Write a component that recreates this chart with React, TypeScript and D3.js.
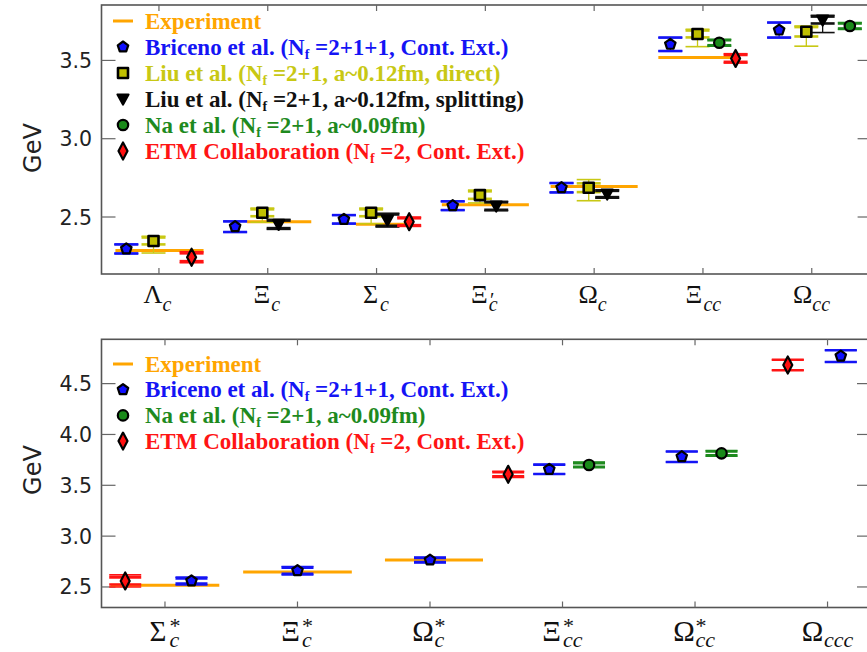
import React from "react";
import * as d3 from "d3";

// ---------- top panel: ground-state charmed baryons ----------
const topBase = ["Λ", "Ξ", "Σ", "Ξ", "Ω", "Ξ", "Ω"];
const topSub = ["c", "c", "c", "c", "c", "cc", "cc"];
const topSup = ["", "", "", "′", "", "", ""];

const expTop = [2.286, 2.469, 2.454, 2.578, 2.695, 3.519, null];

const bricenoTop = [2.296, 2.438, 2.485, 2.572, 2.687, 3.603, 3.694];
const bricenoTopErr = [0.029, 0.034, 0.027, 0.028, 0.03, 0.043, 0.048];

const liuDirectTop = [2.347, 2.527, 2.527, 2.64, 2.687, 3.669, 3.683];
const liuDirectStat = [0.022, 0.022, 0.022, 0.024, 0.028, 0.022, 0.03];
const liuDirectUp = [0.03, 0.03, 0.03, 0.032, 0.052, 0.03, 0.037];
const liuDirectDown = [0.077, 0.06, 0.07, 0.05, 0.083, 0.081, 0.092];

const liuSplitTop = [null, 2.453, 2.48, 2.57, 2.647, null, 3.758];
const liuSplitStat = [null, 0.024, 0.036, 0.024, 0.02, null, 0.022];
const liuSplitUp = [null, 0.032, 0.044, 0.03, 0.027, null, 0.03];
const liuSplitDown = [null, 0.032, 0.044, 0.03, 0.027, null, 0.08];

const naTop = [null, null, null, null, null, 3.613, 3.72];
const naTopStat = [null, null, null, null, null, 0.016, 0.016];
const naTopTot = [null, null, null, null, null, 0.022, 0.022];

const etmTop = [2.243, null, 2.47, null, null, 3.513, null];
const etmTopStat = [0.025, null, 0.022, null, null, 0.022, null];
const etmTopTot = [0.035, null, 0.03, null, null, 0.03, null];

// ---------- bottom panel: spin-3/2 and triply charmed ----------
const botBase = ["Σ", "Ξ", "Ω", "Ξ", "Ω", "Ω"];
const botSub = ["c", "c", "c", "cc", "cc", "ccc"];
const botSup = ["*", "*", "*", "*", "*", ""];

const expBot = [2.518, 2.646, 2.766, null, null, null];

const bricenoBot = [2.559, 2.66, 2.765, 3.657, 3.781, 4.771];
const bricenoBotStat = [0.025, 0.03, 0.02, 0.046, 0.052, 0.058];
const bricenoBotTot = [0.038, 0.042, 0.03, 0.046, 0.052, 0.058];

const naBot = [null, null, null, 3.7, 3.814, null];
const naBotStat = [null, null, null, 0.018, 0.018, null];
const naBotTot = [null, null, null, 0.028, 0.028, null];

const etmBot = [2.559, null, null, 3.608, null, 4.683];
const etmBotStat = [0.035, null, null, 0.02, null, 0.052];
const etmBotTot = [0.06, null, null, 0.03, null, 0.052];

// horizontal slot of each point inside its category (category units)
const slotTop = {
  briceno: [-0.3, -0.3, -0.3, -0.3, -0.3, -0.3, -0.3],
  liuDirect: [-0.05, -0.05, -0.05, -0.05, -0.05, -0.05, -0.05],
  liuSplit: [0.1, 0.1, 0.1, 0.1, 0.12, 0.1, 0.1],
  na: [0, 0, 0, 0, 0, 0.15, 0.35],
  etm: [0.3, 0.3, 0.3, 0.3, 0.3, 0.3, 0.3],
};
const expSpanTop = [
  [-0.4, 0.41],
  [-0.19, 0.4],
  [-0.19, 0.33],
  [-0.4, 0.4],
  [-0.4, 0.4],
  [-0.41, 0.31],
  [0, 0],
];
const slotBot = {
  briceno: [0.2, 0, 0, -0.1, -0.1, 0.1],
  na: [0, 0, 0, 0.2, 0.2, 0],
  etm: [-0.3, 0, 0, -0.41, 0, -0.3],
};
const expSpanBot = [
  [-0.41, 0.41],
  [-0.41, 0.41],
  [-0.34, 0.4],
  [0, 0],
  [0, 0],
  [0, 0],
];

const BLUE = "#1414f5";
const YELLOW = "#c8c814";
const BLACK = "#111";
const GREEN = "#1e8a1e";
const RED = "#ff1414";
const ORANGE = "#ffa500";

type Pt = { i: number; v: number; stat: number; up: number; down: number; off: number };
type Series = { key: string; color: string; marker: string; capW: number; points: Pt[] };

const build = (
  vals: (number | null)[],
  stat: (number | null)[],
  up: (number | null)[],
  down: (number | null)[],
  offs: number[]
): Pt[] =>
  vals
    .map((v, i) =>
      v == null
        ? null
        : {
            i,
            v,
            stat: stat[i] as number,
            up: up[i] as number,
            down: down[i] as number,
            off: offs[i],
          }
    )
    .filter((d): d is Pt => d !== null);

const polygon = (pts: [number, number][]) =>
  d3.line().curve(d3.curveLinearClosed)(pts) as string;

const markerPath = (type: string) => {
  if (type === "pentagon")
    return polygon(
      d3.range(5).map((k) => {
        const a = -Math.PI / 2 + (k * 2 * Math.PI) / 5;
        return [5.5 * Math.cos(a), 5.5 * Math.sin(a)] as [number, number];
      })
    );
  if (type === "square") return polygon([[-5, -5], [5, -5], [5, 5], [-5, 5]]);
  if (type === "triangle") return polygon([[-5.5, -4.5], [5.5, -4.5], [0, 5.5]]);
  if (type === "diamond") return polygon([[0, -8.5], [4.5, 0], [0, 8.5], [-4.5, 0]]);
  return d3.symbol(d3.symbolCircle, 85)() as string;
};

const markerFill: Record<string, string> = {
  pentagon: "#1010ff",
  square: "#c0c000",
  triangle: "#000",
  circle: "#1a8a1a",
  diamond: "#ff1010",
};

const Marker = ({ type, x, y }: { type: string; x: number; y: number }) => (
  <path
    d={markerPath(type)}
    transform={`translate(${x},${y})`}
    fill={markerFill[type]}
    stroke="#000"
    strokeWidth={type === "square" ? 2.6 : 2.2}
    strokeLinejoin="round"
  />
);

type LegendRow = { color: string; marker: string; pre: string; post: string };

type LabelStyle = {
  baseSize: number;
  half: number;
  subSize: number;
  subDy: number;
  supSize: number;
  supDy: number;
  supW: number;
  shift: number;
};

type PanelProps = {
  x: d3.ScaleLinear<number, number>;
  y: d3.ScaleLinear<number, number>;
  nCat: number;
  yTicks: number[];
  base: string[];
  sub: string[];
  sup: string[];
  lab: LabelStyle;
  baseY: number;
  exp: (number | null)[];
  expSpan: number[][];
  series: Series[];
  legend: LegendRow[];
  legendY: number;
  legendStep: number;
  gevY: number;
};

const Panel = (p: PanelProps) => {
  const [x0, x1] = p.x.range();
  const [y0, y1] = p.y.range(); // y0 bottom, y1 top
  const cats = d3.range(p.nCat);
  const L = p.lab;
  return (
    <g>
      {/* y label */}
      <text
        transform={`translate(41,${p.gevY}) rotate(-90)`}
        textAnchor="middle"
        fontFamily="DejaVu Sans"
        fontSize={24}
        fill="#222"
      >
        GeV
      </text>

      {/* frame */}
      <rect
        x={x0}
        y={y1}
        width={x1 - x0}
        height={y0 - y1}
        fill="none"
        stroke="#555"
        strokeWidth={1.6}
      />
      {p.yTicks.map((t) => (
        <g key={t}>
          <line x1={x0} x2={x0 + 14} y1={p.y(t)} y2={p.y(t)} stroke="#666" strokeWidth={1.2} />
          <line x1={x1 - 14} x2={x1} y1={p.y(t)} y2={p.y(t)} stroke="#666" strokeWidth={1.2} />
          <text
            x={92}
            y={p.y(t) + 7.5}
            textAnchor="end"
            fontFamily="DejaVu Sans"
            fontSize={20.5}
            fill="#222"
          >
            {t.toFixed(1)}
          </text>
        </g>
      ))}
      {cats.map((i) => {
        const cx = p.x(i);
        const bc = cx - 3 - L.shift * p.sub[i].length;
        return (
          <g key={i}>
            <line x1={cx} x2={cx} y1={y0} y2={y0 - 6} stroke="#666" strokeWidth={1.2} />
            <line x1={cx} x2={cx} y1={y1} y2={y1 + 6} stroke="#666" strokeWidth={1.2} />
            <text
              x={bc}
              y={p.baseY}
              textAnchor="middle"
              fontFamily="Liberation Serif"
              fontSize={L.baseSize}
              fill="#111"
            >
              {p.base[i]}
            </text>
            <text x={bc + L.half} y={p.baseY} fontFamily="Liberation Serif" fill="#111">
              {p.sup[i] ? (
                <>
                  <tspan fontSize={L.supSize} dy={L.supDy}>
                    {p.sup[i]}
                  </tspan>
                  <tspan
                    fontSize={L.subSize}
                    fontStyle="italic"
                    dx={-L.supW}
                    dy={L.subDy - L.supDy}
                  >
                    {p.sub[i]}
                  </tspan>
                </>
              ) : (
                <tspan fontSize={L.subSize} fontStyle="italic" dy={L.subDy}>
                  {p.sub[i]}
                </tspan>
              )}
            </text>
          </g>
        );
      })}

      {/* experiment */}
      {p.exp.map((v, i) =>
        v == null ? null : (
          <line
            key={i}
            x1={p.x(i + p.expSpan[i][0])}
            x2={p.x(i + p.expSpan[i][1])}
            y1={p.y(v)}
            y2={p.y(v)}
            stroke={ORANGE}
            strokeWidth={3}
          />
        )
      )}

      {/* error bars */}
      {p.series.map((s) =>
        s.points.map((d) => {
          const cx = p.x(d.i + d.off);
          const caps = [
            { v: d.v + d.stat, w: 2.6 },
            { v: d.v - d.stat, w: 2.6 },
            { v: d.v + d.up, w: 1.6 },
            { v: d.v - d.down, w: 1.6 },
          ];
          return (
            <g key={s.key + d.i}>
              <line
                x1={cx}
                x2={cx}
                y1={p.y(d.v - d.down)}
                y2={p.y(d.v + d.up)}
                stroke={s.color}
                strokeWidth={1.3}
              />
              {caps.map((c, k) => (
                <line
                  key={k}
                  x1={cx - s.capW}
                  x2={cx + s.capW}
                  y1={p.y(c.v)}
                  y2={p.y(c.v)}
                  stroke={s.color}
                  strokeWidth={c.w}
                />
              ))}
            </g>
          );
        })
      )}
      {p.series.map((s) =>
        s.points.map((d) => (
          <Marker key={"m" + s.key + d.i} type={s.marker} x={p.x(d.i + d.off)} y={p.y(d.v)} />
        ))
      )}

      {/* legend */}
      {p.legend.map((r, k) => {
        const cy = p.legendY + k * p.legendStep;
        return (
          <g key={k}>
            {r.marker === "line" ? (
              <line x1={113} x2={133} y1={cy} y2={cy} stroke={ORANGE} strokeWidth={3} />
            ) : (
              <Marker type={r.marker} x={123} y={cy} />
            )}
            <text
              x={145}
              y={cy + 7.5}
              fontFamily="Liberation Serif"
              fontWeight="bold"
              fontSize={23}
              fill={r.color}
            >
              {r.pre}
              {r.post !== "" && (
                <>
                  <tspan fontSize={14} dy={4}>
                    f
                  </tspan>
                  <tspan dy={-4}>{r.post}</tspan>
                </>
              )}
            </text>
          </g>
        );
      })}
    </g>
  );
};

const legendExp = { color: ORANGE, marker: "line", pre: "Experiment", post: "" };
const legendBriceno = {
  color: BLUE,
  marker: "pentagon",
  pre: "Briceno et al. (N",
  post: " =2+1+1, Cont. Ext.)",
};
const legendLiuDirect = {
  color: YELLOW,
  marker: "square",
  pre: "Liu et al. (N",
  post: " =2+1, a~0.12fm, direct)",
};
const legendLiuSplit = {
  color: BLACK,
  marker: "triangle",
  pre: "Liu et al. (N",
  post: " =2+1, a~0.12fm, splitting)",
};
const legendNa = { color: GREEN, marker: "circle", pre: "Na et al. (N", post: " =2+1, a~0.09fm)" };
const legendEtm = {
  color: RED,
  marker: "diamond",
  pre: "ETM Collaboration (N",
  post: " =2, Cont. Ext.)",
};

const topLab: LabelStyle = {
  baseSize: 26,
  half: 9.5,
  subSize: 20,
  subDy: 8,
  supSize: 20,
  supDy: 4,
  supW: 5.5,
  shift: 3,
};
const botLab: LabelStyle = {
  baseSize: 29,
  half: 11.5,
  subSize: 22,
  subDy: 6,
  supSize: 22,
  supDy: -8,
  supW: 11,
  shift: 4,
};

const App: React.FC = () => {
  const xTop = d3.scaleLinear().domain([-0.528, 6.55]).range([101.5, 871.6]);
  const yTop = d3.scaleLinear().domain([2.136, 3.854]).range([274, 5]);
  const xBot = d3.scaleLinear().domain([-0.479, 5.328]).range([101.5, 871]);
  const yBot = d3.scaleLinear().domain([2.298, 4.936]).range([607.5, 339.3]);

  const topSeries: Series[] = [
    {
      key: "briceno",
      color: BLUE,
      marker: "pentagon",
      capW: 12,
      points: build(bricenoTop, bricenoTopErr, bricenoTopErr, bricenoTopErr, slotTop.briceno),
    },
    {
      key: "liuDirect",
      color: YELLOW,
      marker: "square",
      capW: 12,
      points: build(liuDirectTop, liuDirectStat, liuDirectUp, liuDirectDown, slotTop.liuDirect),
    },
    {
      key: "liuSplit",
      color: BLACK,
      marker: "triangle",
      capW: 12,
      points: build(liuSplitTop, liuSplitStat, liuSplitUp, liuSplitDown, slotTop.liuSplit),
    },
    {
      key: "na",
      color: GREEN,
      marker: "circle",
      capW: 12,
      points: build(naTop, naTopStat, naTopTot, naTopTot, slotTop.na),
    },
    {
      key: "etm",
      color: RED,
      marker: "diamond",
      capW: 12,
      points: build(etmTop, etmTopStat, etmTopTot, etmTopTot, slotTop.etm),
    },
  ];

  const botSeries: Series[] = [
    {
      key: "briceno",
      color: BLUE,
      marker: "pentagon",
      capW: 16,
      points: build(bricenoBot, bricenoBotStat, bricenoBotTot, bricenoBotTot, slotBot.briceno),
    },
    {
      key: "na",
      color: GREEN,
      marker: "circle",
      capW: 16,
      points: build(naBot, naBotStat, naBotTot, naBotTot, slotBot.na),
    },
    {
      key: "etm",
      color: RED,
      marker: "diamond",
      capW: 16,
      points: build(etmBot, etmBotStat, etmBotTot, etmBotTot, slotBot.etm),
    },
  ];

  return (
    <svg
      width={867}
      height={652}
      style={{ position: "absolute", left: 0, top: 0, background: "#fff" }}
    >
      <Panel
        x={xTop}
        y={yTop}
        nCat={7}
        yTicks={[2.5, 3.0, 3.5]}
        base={topBase}
        sub={topSub}
        sup={topSup}
        lab={topLab}
        baseY={303}
        exp={expTop}
        expSpan={expSpanTop}
        series={topSeries}
        legend={[legendExp, legendBriceno, legendLiuDirect, legendLiuSplit, legendNa, legendEtm]}
        legendY={21}
        legendStep={26}
        gevY={148}
      />
      <Panel
        x={xBot}
        y={yBot}
        nCat={6}
        yTicks={[2.5, 3.0, 3.5, 4.0, 4.5]}
        base={botBase}
        sub={botSub}
        sup={botSup}
        lab={botLab}
        baseY={641}
        exp={expBot}
        expSpan={expSpanBot}
        series={botSeries}
        legend={[legendExp, legendBriceno, legendNa, legendEtm]}
        legendY={364}
        legendStep={25.7}
        gevY={470}
      />
    </svg>
  );
};

export default App;
